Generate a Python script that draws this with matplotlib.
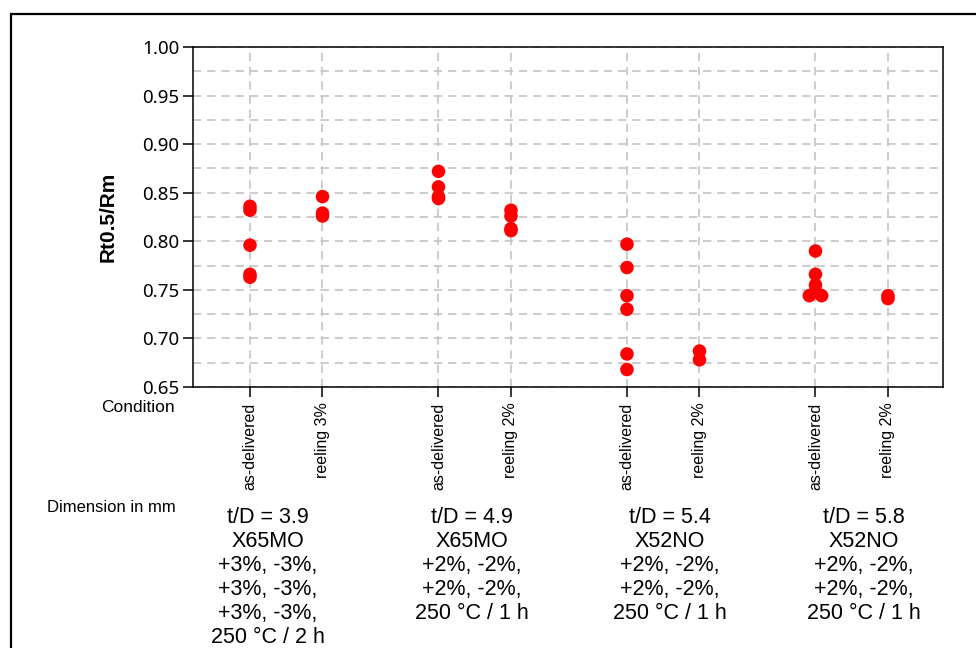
import matplotlib
matplotlib.use("Agg")
import matplotlib.pyplot as plt
from matplotlib.patches import Rectangle
from matplotlib.ticker import MultipleLocator
import numpy as np

# ---- data ----
conditions = ["as-delivered", "reeling 3%", "as-delivered", "reeling 2%",
              "as-delivered", "reeling 2%", "as-delivered", "reeling 2%"]
vals_g1_ad = [0.836, 0.832, 0.796, 0.766, 0.763]
vals_g1_re = [0.846, 0.829, 0.826]
vals_g2_ad = [0.872, 0.856, 0.846, 0.844]
vals_g2_re = [0.832, 0.826, 0.813, 0.811]
vals_g3_ad = [0.797, 0.773, 0.744, 0.730, 0.684, 0.668]
vals_g3_re = [0.687, 0.678]
vals_g4_ad = [0.790, 0.766, 0.755, 0.749, 0.744, 0.744]
vals_g4_re = [0.744, 0.741]
series = [vals_g1_ad, vals_g1_re, vals_g2_ad, vals_g2_re,
          vals_g3_ad, vals_g3_re, vals_g4_ad, vals_g4_re]
group_texts = [
    "t/D = 3.9\nX65MO\n+3%, -3%,\n+3%, -3%,\n+3%, -3%,\n250 °C / 2 h",
    "t/D = 4.9\nX65MO\n+2%, -2%,\n+2%, -2%,\n250 °C / 1 h",
    "t/D = 5.4\nX52NO\n+2%, -2%,\n+2%, -2%,\n250 °C / 1 h",
    "t/D = 5.8\nX52NO\n+2%, -2%,\n+2%, -2%,\n250 °C / 1 h",
]
y_ticks = [0.65, 0.70, 0.75, 0.80, 0.85, 0.90, 0.95, 1.00]

# ---- layout ----
W, H = 976, 648
fig = plt.figure(figsize=(W / 100, H / 100), dpi=100)
ax = fig.add_axes([193 / W, 1 - 387 / H, 750 / W, 340 / H])

# column positions: pairs with a wider gap between groups
positions = [g * 2.6 + k for g in range(4) for k in range(2)]

for pos, vals in zip(positions, series):
    vals = np.asarray(vals)
    xs = np.full(len(vals), float(pos))
    # spread exact duplicates sideways
    uniq, counts = np.unique(vals, return_counts=True)
    for u, c in zip(uniq, counts):
        if c > 1:
            idx = np.where(vals == u)[0]
            offs = np.linspace(-0.085, 0.085, c)
            xs[idx] = pos + offs
    ax.scatter(xs, vals, s=95, color="#ff0000", edgecolors="none", zorder=3)

ax.set_xlim(-0.786, 9.559)
ax.set_ylim(0.65, 1.00)
ax.set_xticks(positions)
ax.set_xticklabels(conditions, rotation=90, fontsize=11.5, family="Liberation Sans",
                   va="top")
ax.set_yticks(y_ticks)
ax.set_yticklabels([f"{v:.2f}" for v in y_ticks], fontsize=13.5, family="Noto Sans")
ax.yaxis.set_minor_locator(MultipleLocator(0.025))
ax.tick_params(axis="y", which="minor", length=0)
ax.tick_params(axis="both", which="major", length=7, width=1.1, direction="out",
               color="black", pad=3)
ax.tick_params(axis="x", pad=4)

grid_kw = dict(color="#c4c4c4", linestyle=(0, (5, 3.5)), linewidth=1.2)
ax.grid(True, which="both", axis="y", **grid_kw)
ax.grid(True, which="major", axis="x", **grid_kw)
ax.set_axisbelow(True)
for sp in ax.spines.values():
    sp.set_linewidth(1.1)
    sp.set_color("black")

ax.set_ylabel("Rt0.5/Rm", fontsize=15, fontweight="bold",
              family="Liberation Sans")
ax.yaxis.set_label_coords(-0.10, 0.5)

# side captions
fig.text(175 / W, 1 - 407 / H, "Condition", fontsize=12.5, family="Liberation Sans",
         ha="right", va="center")
fig.text(176 / W, 1 - 508 / H, "Dimension in mm", fontsize=12,
         family="Liberation Sans", ha="right", va="center")

# group descriptions
centers_px = [268, 472, 670, 864]
for cx, txt in zip(centers_px, group_texts):
    fig.text(cx / W, 1 - 507 / H, txt, fontsize=15.5, family="Liberation Sans",
             ha="center", va="top", linespacing=1.19)

# outer frame
fig.patches.append(Rectangle((11 / W, -0.05), 1.1, 1 - 14 / H + 0.05,
                             transform=fig.transFigure, fill=False,
                             edgecolor="black", linewidth=1.6))

fig.savefig("out.png", dpi=100)
